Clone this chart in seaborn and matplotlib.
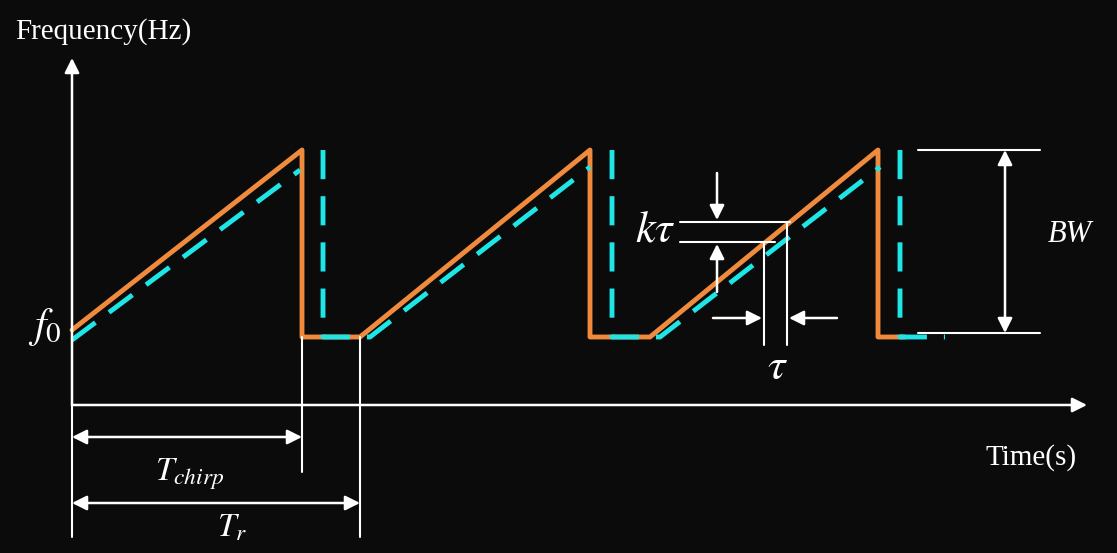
import matplotlib.pyplot as plt
import seaborn as sns

sns.set_theme(style="dark")
plt.rcParams['font.family'] = ['Liberation Serif', 'DejaVu Serif']
plt.rcParams['mathtext.fontset'] = 'stix'

# schematic key points (pixel-like units, y grows downward); None breaks the line
orange_x = [72, 302, 302, 360, 590, 590, 650, 878, 878, 905]
orange_y = [330, 150, 337, 337, 150, 337, 337, 150, 337, 337]
cyan_x = [72, 300, None, 323, 323, 370, 590, None, 612, 612, 660, 880, None, 900, 900, 945]
cyan_y = [340, 170, None, 150, 337, 337, 167, None, 150, 337, 337, 167, None, 150, 337, 337]

fig = plt.figure(figsize=(11.17, 5.53), dpi=100, facecolor='#0b0b0b')
ax = fig.add_axes([0, 0, 1, 1])
ax.set_facecolor('#0b0b0b')
ax.set_xlim(0, 1117)
ax.set_ylim(553, 0)
ax.axis('off')

W = 'white'
ax.plot(orange_x, orange_y, color='#f08a3c', lw=3.5)
ax.plot(cyan_x, cyan_y, color='#1ee6e6', lw=3.5, dashes=(6, 3.5))

def arrow(x0, y0, x1, y1, both=False):
    ax.annotate('', xy=(x1, y1), xytext=(x0, y0),
                arrowprops=dict(arrowstyle='<|-|>' if both else '-|>', color=W,
                                lw=1.8, mutation_scale=22, shrinkA=0, shrinkB=0))

def line(xs, ys):
    ax.plot(xs, ys, color=W, lw=1.5)

# axes
arrow(72, 405, 72, 58)
arrow(72, 405, 1087, 405)
line([72, 72], [405, 537])
line([302, 302], [337, 472])
line([360, 360], [337, 537])
arrow(72, 437, 302, 437, both=True)
arrow(72, 503, 360, 503, both=True)

# BW
line([918, 1040], [150, 150])
line([918, 1040], [333, 333])
arrow(1005, 150, 1005, 333, both=True)

# k tau
line([680, 790], [222, 222])
line([680, 775], [242, 242])
arrow(717, 173, 717, 220)
arrow(717, 292, 717, 244)
# tau
line([764, 764], [242, 345])
line([787, 787], [222, 345])
arrow(713, 318, 762, 318)
arrow(837, 318, 789, 318)

ax.text(15, 32, 'Frequency(Hz)', color=W, fontsize=21, va='center')
ax.text(985, 458, 'Time(s)', color=W, fontsize=21, va='center')
ax.text(28, 327, r'$f_0$', color=W, fontsize=30, va='center')
ax.text(1070, 235, 'BW', color=W, fontsize=22, style='italic', ha='center', va='center')
ax.text(655, 230, r'$k\tau$', color=W, fontsize=32, ha='center', va='center')
ax.text(777, 368, r'$\tau$', color=W, fontsize=32, ha='center', va='center')
ax.text(190, 474, r'$T_{chirp}$', color=W, fontsize=24, ha='center', va='center')
ax.text(232, 528, r'$T_r$', color=W, fontsize=24, ha='center', va='center')

fig.savefig('out.png', dpi=100, facecolor=fig.get_facecolor())
